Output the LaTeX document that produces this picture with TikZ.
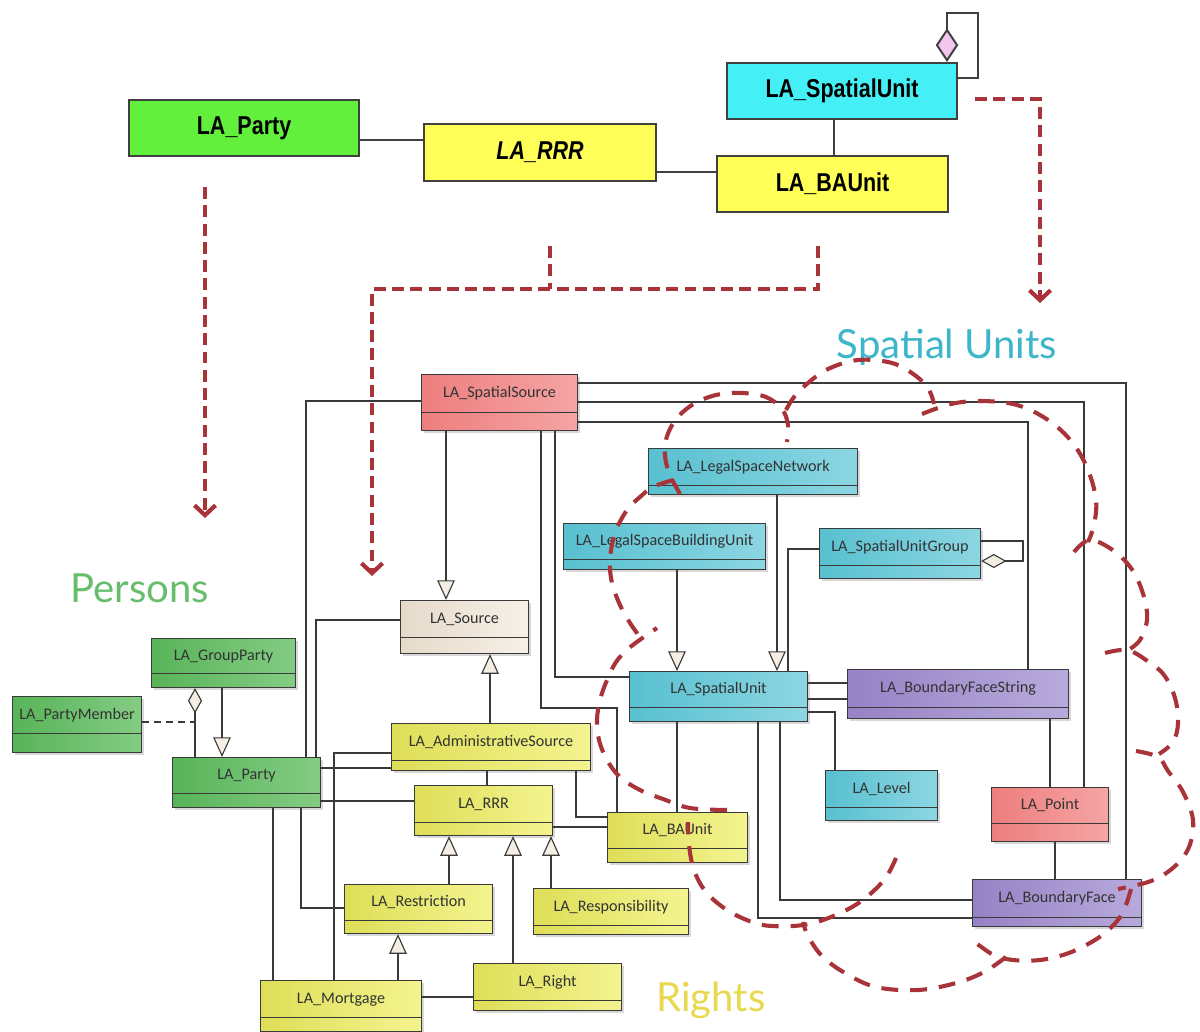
\documentclass[tikz,border=0pt]{standalone}
\usepackage{fontspec}
\usepackage{graphicx}
\setmainfont{Carlito}
\newfontfamily\headfont{Liberation Sans}
\newfontfamily\groupfont{Lato}
\usetikzlibrary{arrows.meta,shadows}

\definecolor{cloudred}{HTML}{A8343A}
\definecolor{linegrey}{HTML}{3A3A3A}
\definecolor{cream}{HTML}{F4EFE2}
\definecolor{diapink}{HTML}{F2C6EE}
% top-level package colours
\definecolor{topgreen}{HTML}{62F03C}
\definecolor{topyellow}{HTML}{FFFF58}
\definecolor{topcyan}{HTML}{44F0F6}
% class colours (left / right of the gradient)
\definecolor{salmonL}{HTML}{EE7E7E}\definecolor{salmonR}{HTML}{F5A4A4}
\definecolor{beigeL}{HTML}{E6DACA}\definecolor{beigeR}{HTML}{F6F0E7}
\definecolor{tealL}{HTML}{58C0D0}\definecolor{tealR}{HTML}{8CD6E2}
\definecolor{purpL}{HTML}{9682C5}\definecolor{purpR}{HTML}{B8AADC}
\definecolor{yelL}{HTML}{DEDE58}\definecolor{yelR}{HTML}{F4F490}
\definecolor{grnL}{HTML}{58B458}\definecolor{grnR}{HTML}{84CC84}
\definecolor{persgreen}{HTML}{66BE6C}
\definecolor{sucyan}{HTML}{3CB6C8}
\definecolor{rightsyellow}{HTML}{E8D84C}

% tall, narrow package titles
\newcommand{\talltitle}[1]{\scalebox{1}[1.2]{#1}}

\tikzset{
  sz/.style 2 args={minimum width=#1*0.025cm, minimum height=#2*0.025cm, anchor=north west},
  topbox/.style={draw=black!75, line width=1.5pt, inner sep=0pt, fill=#1,
    font=\headfont\bfseries\fontsize{15.3}{18}\selectfont},
  cls/.style 2 args={draw=linegrey, line width=0.8pt, inner sep=0pt,
    left color=#1, right color=#2, text=black!80,
    font=\fontsize{11.5}{13}\selectfont, text height=5pt,
    drop shadow={shadow xshift=2pt, shadow yshift=-2pt, opacity=0.3}},
  attr/.code={%
    \pgfmathsetlengthmacro\attrdp{#1*0.7113pt-1pt}%
    \pgfmathsetlengthmacro\attrht{#1*0.7113pt}%
    \edef\attrtmp{\noexpand\tikzset{text depth=\attrdp,
      path picture={\noexpand\draw[draw=linegrey, line width=0.8pt]
        ([yshift=\attrht]path picture bounding box.south west) --
        ([yshift=\attrht]path picture bounding box.south east);}}}%
    \attrtmp},
  topline/.style={draw=black!75, line width=1.4pt},
  assoc/.style={draw=linegrey, line width=0.8pt},
  gen/.style={assoc, -{Triangle[length=14pt, width=12.5pt, fill=cream]}},
  agg/.style={assoc, -{Diamond[length=18pt, width=10pt, fill=cream]}},
  reddash/.style={draw=cloudred, line width=3pt, dash pattern=on 8.5pt off 4.5pt},
  redarrow/.style={reddash, -{Straight Barb[length=7pt, width=15pt]}},
  cloud/.style={draw=cloudred, line width=2.9pt, dash pattern=on 12pt off 8.5pt, line cap=butt},
  grouplabel/.style={font=\groupfont\fontsize{28.5}{32}\selectfont}
}

\begin{document}
\begin{tikzpicture}[x=0.025cm, y=-0.025cm]
\useasboundingbox (0,0) rectangle (1200,1031);
\fill[white] (0,0) rectangle (1200,1031);

% ---------- package overview ----------
\node[topbox=topgreen, sz={230}{56}] (tparty) at (128,99) {\talltitle{LA\_Party}};
\node[topbox=topyellow, sz={232}{57}] (trrr) at (423,123) {\talltitle{\itshape LA\_RRR}};
\node[topbox=topyellow, sz={231}{56}] (tbau) at (716,155) {\talltitle{LA\_BAUnit}};
\node[topbox=topcyan, sz={230}{56}] (tsu) at (726,62) {\talltitle{LA\_SpatialUnit}};

\draw[topline] (tparty.east |- 0,140) -- (trrr.west |- 0,140);
\draw[topline] (trrr.east |- 0,172) -- (tbau.west |- 0,172);
\draw[topline] (tsu.south -| 834,0) -- (tbau.north -| 834,0);
\draw[topline, -{Diamond[length=24pt, width=16pt, fill=diapink]}]
  (tsu.east |- 0,78) -- (978,78) -- (978,13) -- (947,13) -- (tsu.north -| 947,0);

% ---------- dashed pointers to the detailed packages ----------
\coordinate (pstart) at (205,187);
\coordinate (pend) at (205,518);
\coordinate (rrrdrop) at (550,246);
\coordinate (baudrop) at (818,246);
\coordinate (join) at (372,289);
\coordinate (rend) at (372,576);
\coordinate (sustart) at (975,99);
\coordinate (suend) at (1040,303);
\draw[redarrow] (pstart) -- (pend);
\draw[reddash] (rrrdrop) -- (rrrdrop |- join);
\draw[redarrow] (baudrop) |- (join) -- (rend);
\draw[redarrow] (sustart) -| (suend);

% ---------- classes ----------
\node[cls={salmonL}{salmonR}, sz={156}{56}, attr=18] (ss) at (421,374) {LA\_SpatialSource};
\node[cls={beigeL}{beigeR}, sz={128}{53}, attr=16] (src) at (400,600) {LA\_Source};
\node[cls={tealL}{tealR}, sz={209}{46}, attr=9] (lsn) at (648,448) {LA\_LegalSpaceNetwork};
\node[cls={tealL}{tealR}, sz={202}{46}, attr=10] (lsbu) at (563,523) {LA\_LegalSpaceBuildingUnit};
\node[cls={tealL}{tealR}, sz={161}{50}, attr=13] (sug) at (819,528) {LA\_SpatialUnitGroup};
\node[cls={tealL}{tealR}, sz={178}{50}, attr=14] (su) at (629,671) {LA\_SpatialUnit};
\node[cls={purpL}{purpR}, sz={221}{49}, attr=11] (bfs) at (847,669) {LA\_BoundaryFaceString};
\node[cls={tealL}{tealR}, sz={112}{50}, attr=13] (lvl) at (825,770) {LA\_Level};
\node[cls={salmonL}{salmonR}, sz={117}{54}, attr=18] (pt) at (991,787) {LA\_Point};
\node[cls={purpL}{purpR}, sz={169}{47}, attr=9] (bf) at (972,879) {LA\_BoundaryFace};
\node[cls={yelL}{yelR}, sz={140}{50}, attr=14] (bau) at (607,812) {LA\_BAUnit};
\node[cls={yelL}{yelR}, sz={199}{47}, attr=10] (adm) at (391,723) {LA\_AdministrativeSource};
\node[cls={yelL}{yelR}, sz={138}{50}, attr=13] (rrr) at (414,785) {LA\_RRR};
\node[cls={yelL}{yelR}, sz={148}{49}, attr=13] (rst) at (344,884) {LA\_Restriction};
\node[cls={yelL}{yelR}, sz={155}{46}, attr=9] (rsp) at (533,888) {LA\_Responsibility};
\node[cls={yelL}{yelR}, sz={148}{47}, attr=10] (rgt) at (473,963) {LA\_Right};
\node[cls={yelL}{yelR}, sz={161}{51}, attr=14] (mtg) at (260,980) {LA\_Mortgage};
\node[cls={grnL}{grnR}, sz={148}{50}, attr=14] (pty) at (172,757) {LA\_Party};
\node[cls={grnL}{grnR}, sz={144}{49}, attr=14] (gp) at (151,638) {LA\_GroupParty};
\node[cls={grnL}{grnR}, sz={129}{56}, attr=19] (pm) at (12,696) {LA\_PartyMember};

% ---------- associations and generalisations ----------
\draw[assoc] (ss.east |- 0,383) -| (bf.north -| 1126,0);
\draw[assoc] (ss.east |- 0,402) -| (pt.north -| 1084,0);
\draw[assoc] (ss.east |- 0,422) -| (bfs.north -| 1028,0);
\draw[assoc] (ss.west |- 0,401) -| (pty.north -| 306,0);
\draw[gen] (ss.south -| 446,0) -- (src.north -| 446,0);
\draw[assoc] (src.west |- 0,620) -| (pty.north -| 316,0);
\draw[assoc] (ss.south -| 541,0) |- (617,708) -- (bau.north -| 617,0);
\draw[assoc] (ss.south -| 555,0) |- (su.west |- 0,677);
\draw[gen] (lsn.south -| 777,0) -- (su.north -| 777,0);
\draw[gen] (lsbu.south -| 677,0) -- (su.north -| 677,0);
\draw[assoc] (sug.west |- 0,549) -| (su.north -| 788,0);
\draw[agg] (sug.east |- 0,541) -- (1023,541) -- (1023,561) -- (sug.east |- 0,561);
\draw[assoc] (su.east |- 0,683) -- (bfs.west |- 0,683);
\draw[assoc] (su.east |- 0,699) -- (bfs.west |- 0,699);
\draw[assoc] (su.east |- 0,712) -| (lvl.north -| 835,0);
\draw[assoc] (su.south -| 677,0) -- (bau.north -| 677,0);
\draw[assoc] (su.south -| 758,0) |- (bf.west |- 0,918);
\draw[assoc] (su.south -| 780,0) |- (bf.west |- 0,900);
\draw[assoc] (bfs.south -| 1050,0) -- (pt.north -| 1050,0);
\draw[assoc] (pt.south -| 1055,0) -- (bf.north -| 1055,0);
\draw[gen] (adm.north -| 490,0) -- (src.south -| 490,0);
\draw[assoc] (adm.south -| 487,0) -- (rrr.north -| 487,0);
\draw[assoc] (adm.south -| 576,0) |- (bau.west |- 0,817);
\draw[assoc] (rrr.east |- 0,827) -- (bau.west |- 0,827);
\draw[gen] (rst.north -| 449,0) -- (rrr.south -| 449,0);
\draw[gen] (rgt.north -| 513,0) -- (rrr.south -| 513,0);
\draw[gen] (rsp.north -| 551,0) -- (rrr.south -| 551,0);
\draw[gen] (mtg.north -| 398,0) -- (rst.south -| 398,0);
\draw[assoc] (mtg.east |- 0,997) -- (rgt.west |- 0,997);
\draw[assoc] (pty.east |- 0,768) -- (adm.west |- 0,768);
\draw[assoc] (pty.east |- 0,801) -- (rrr.west |- 0,801);
\draw[assoc] (pty.south -| 273,0) -- (mtg.north -| 273,0);
\draw[assoc] (pty.south -| 301,0) |- (rst.west |- 0,908);
\draw[assoc] (mtg.north -| 334,0) |- (adm.west |- 0,753);
\draw[gen] (gp.south -| 222,0) -- (pty.north -| 222,0);
\draw[agg] (pty.north -| 195,0) -- (gp.south -| 195,0);
\coordinate (memberjoin) at (195,722);
\draw[assoc, dash pattern=on 5pt off 3.5pt] (pm.east |- memberjoin) -- (memberjoin);

% ---------- group captions ----------
\node[grouplabel, text=persgreen] (lpersons) at (140,588) {Persons};
\node[grouplabel, text=sucyan] (lspatial) at (947,347) {Spatial Units};
\node[grouplabel, text=rightsyellow] (lrights) at (711,1000) {Rights};

% ---------- cloud around the spatial-unit classes ----------
\draw[cloud] plot[smooth, tension=0.6] coordinates {(673,480) (653,487) (640,497) (627,510) (615,533) (610,560) (612,583) (620,605) (630,623) (640,637)};
\draw[cloud] plot[smooth, tension=0.6] coordinates {(680,494) (668,470) (665,445) (674,422) (692,405) (716,395) (742,393) (766,397) (782,409) (788,425) (787,442)};
\draw[cloud] plot[smooth, tension=0.6] coordinates {(786,410) (794,397) (808,383) (828,369) (858,360) (892,363) (916,376) (929,390) (934,404)};
\draw[cloud] plot[smooth, tension=0.6] coordinates {(922,414) (951,404) (981,401) (1017,405) (1048,420) (1072,442) (1088,470) (1096,500) (1094,525) (1088,542)};
\draw[cloud] plot[smooth, tension=0.6] coordinates {(1074,552) (1090,540) (1114,551) (1133,571) (1144,597) (1147,620) (1140,640) (1127,651)};
\draw[cloud] plot[smooth, tension=0.6] coordinates {(1105,653) (1127,650) (1146,660) (1164,675) (1175,698) (1178,723) (1173,742) (1159,754)};
\draw[cloud] plot[smooth, tension=0.6] coordinates {(1136,751) (1158,757) (1168,771) (1183,792) (1193,820) (1189,847) (1174,867) (1151,881) (1118,889)};
\draw[cloud] plot[smooth, tension=0.6] coordinates {(1131,889) (1122,914) (1106,932) (1088,944) (1066,954) (1040,960) (1013,960) (994,955) (980,946) (972,940)};
\draw[cloud] plot[smooth, tension=0.6] coordinates {(1006,957) (984,972) (956,983) (918,990) (876,987) (845,973) (822,956) (808,936) (803,922)};
\draw[cloud] plot[smooth, tension=0.6] coordinates {(896,858) (884,880) (860,902) (831,917) (803,925) (772,926) (752,922) (727,910) (706,892) (694,870) (689,845) (688,822)};
\draw[cloud] plot[smooth, tension=0.6] coordinates {(727,810) (690,808) (663,799) (640,790) (620,777) (607,760) (599,740) (597,720) (600,700) (607,680) (616,662) (628,649) (641,639) (657,628)};
\end{tikzpicture}
\end{document}
